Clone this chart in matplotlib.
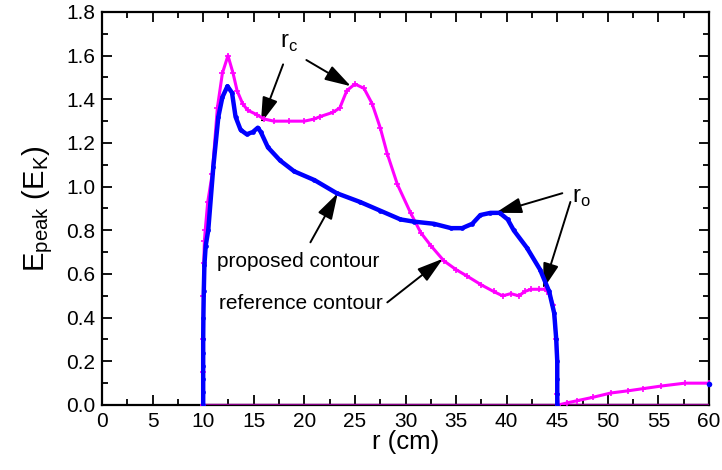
import matplotlib
matplotlib.use("Agg")
import matplotlib.pyplot as plt

plt.rcParams["font.family"] = ["Liberation Sans", "DejaVu Sans"]

# Peak energy along the radius for the two contours
r_reference = [10.0, 10.0, 10.0, 10.02, 10.06, 10.12, 10.2, 10.45, 10.9, 11.4, 11.9, 12.45, 12.95,
               13.35, 13.9, 14.4, 15.3, 16.0, 17.0, 18.5, 20.0, 21.0, 21.5, 22.8, 23.5,
               24.2, 25.0, 25.9, 26.7, 27.5, 28.2, 29.2, 30.5, 31.5, 32.5, 33.8, 35.0,
               36.1, 37.5, 38.7, 39.6, 40.4, 41.2, 41.8, 42.4, 43.2, 43.8, 44.2, 44.6,
               44.9, 45.0, 45.1, 46.0, 47.0, 48.5, 50.3, 52.0, 53.5, 55.3, 57.6, 60.0]
e_reference = [0.0, 0.15, 0.30, 0.50, 0.65, 0.75, 0.80, 0.93, 1.06, 1.36, 1.52, 1.60, 1.52,
               1.44, 1.38, 1.35, 1.33, 1.31, 1.30, 1.30, 1.30, 1.31, 1.32, 1.34, 1.36,
               1.44, 1.47, 1.45, 1.38, 1.27, 1.15, 1.01, 0.88, 0.79, 0.73, 0.66, 0.62,
               0.59, 0.55, 0.52, 0.50, 0.51, 0.50, 0.52, 0.53, 0.53, 0.53, 0.51, 0.46,
               0.30, 0.05, 0.0, 0.01, 0.02, 0.035, 0.055, 0.065, 0.075, 0.087, 0.10, 0.10]

r_proposed = [10.0, 10.0, 10.0, 10.0, 10.0, 10.0, 10.02, 10.06, 10.12, 10.25, 10.5, 11.0,
              11.5, 11.9, 12.4, 12.85, 13.2, 13.7, 14.3, 14.9, 15.4, 15.7, 16.4, 17.6,
              19.0, 21.0, 23.2, 25.5, 27.5, 29.5, 30.8, 32.8, 34.5, 35.6, 36.6, 37.4,
              38.4, 39.3, 40.1, 40.7, 42.0, 43.3, 44.2, 44.7, 44.9, 45.0, 45.0, 45.0,
              45.0]
e_proposed = [0.0, 0.06, 0.12, 0.18, 0.24, 0.30, 0.40, 0.52, 0.64, 0.73, 0.80, 1.09,
              1.32, 1.41, 1.46, 1.43, 1.32, 1.26, 1.24, 1.25, 1.27, 1.25, 1.18, 1.12,
              1.07, 1.03, 0.97, 0.93, 0.89, 0.85, 0.84, 0.83, 0.81, 0.81, 0.83, 0.87,
              0.88, 0.88, 0.85, 0.80, 0.72, 0.62, 0.52, 0.42, 0.30, 0.20, 0.12, 0.05,
              0.0]
r_proposed_end = [60.0]
e_proposed_end = [0.097]

x_ticks = [0, 5, 10, 15, 20, 25, 30, 35, 40, 45, 50, 55, 60]
y_ticks = [0.0, 0.2, 0.4, 0.6, 0.8, 1.0, 1.2, 1.4, 1.6, 1.8]

MAGENTA = "#ff00ff"
BLUE = "#0000ff"
PURPLE = "#8a008a"

fig = plt.figure(figsize=(7.22, 4.70), dpi=100)
ax = fig.add_axes([0.1413, 0.1383, 0.8407, 0.8362])

# zero baseline shared by both series beyond the inner radius
ax.plot([10, 60], [0, 0], color=PURPLE, lw=2.5, solid_capstyle="butt", zorder=3)

ax.plot(r_reference, e_reference, color=MAGENTA, lw=2.2, marker="+", ms=4,
        mew=1.2, zorder=4)
ax.plot(r_proposed, e_proposed, color=BLUE, lw=3.2, marker="o", ms=3.4,
        mew=0, zorder=5)
ax.plot(r_proposed_end, e_proposed_end, color=BLUE, marker="o", ms=4, mew=0, zorder=5,
        clip_on=False)

ax.set_xlim(0, 60)
ax.set_ylim(0, 1.8)
ax.set_xticks(x_ticks)
ax.set_xticklabels([str(v) for v in x_ticks])
ax.set_yticks(y_ticks)
ax.set_yticklabels([f"{v:.1f}" for v in y_ticks])
ax.set_xticks([v + 2.5 for v in x_ticks[:-1]], minor=True)
ax.set_yticks([v + 0.1 for v in y_ticks[:-1]], minor=True)
ax.tick_params(which="both", direction="in", top=True, right=True, width=1.3,
               labelsize=15, colors="black")
ax.tick_params(which="major", length=7, pad=5)
ax.tick_params(which="minor", length=4.5)
for s in ax.spines.values():
    s.set_linewidth(1.6)

ax.set_xlabel("r (cm)", fontsize=18.5, labelpad=-1)
ax.set_ylabel(r"E$_\mathregular{peak}$ (E$_\mathregular{K}$)", fontsize=21, labelpad=8)

arrow = dict(arrowstyle="-|>,head_length=1.6,head_width=0.48", color="black",
             lw=1.4, shrinkA=0, shrinkB=0)

ax.text(18.5, 1.66, r"r$_\mathregular{c}$", fontsize=17, ha="center", va="center")
ax.annotate("", xy=(15.7, 1.29), xytext=(17.9, 1.56), arrowprops=arrow)
ax.annotate("", xy=(24.6, 1.46), xytext=(20.2, 1.58), arrowprops=arrow)

ax.text(47.4, 0.95, r"r$_\mathregular{o}$", fontsize=17, ha="center", va="center")
ax.annotate("", xy=(38.9, 0.88), xytext=(45.5, 0.97), arrowprops=arrow)
ax.annotate("", xy=(43.6, 0.53), xytext=(46.3, 0.93), arrowprops=arrow)

ax.text(11.4, 0.655, "proposed contour", fontsize=15, ha="left", va="center")
ax.annotate("", xy=(23.3, 0.97), xytext=(20.6, 0.745), arrowprops=arrow)

ax.text(11.6, 0.465, "reference contour", fontsize=15, ha="left", va="center")
ax.annotate("", xy=(33.7, 0.67), xytext=(28.2, 0.47), arrowprops=arrow)

fig.savefig("out.png", dpi=100)
